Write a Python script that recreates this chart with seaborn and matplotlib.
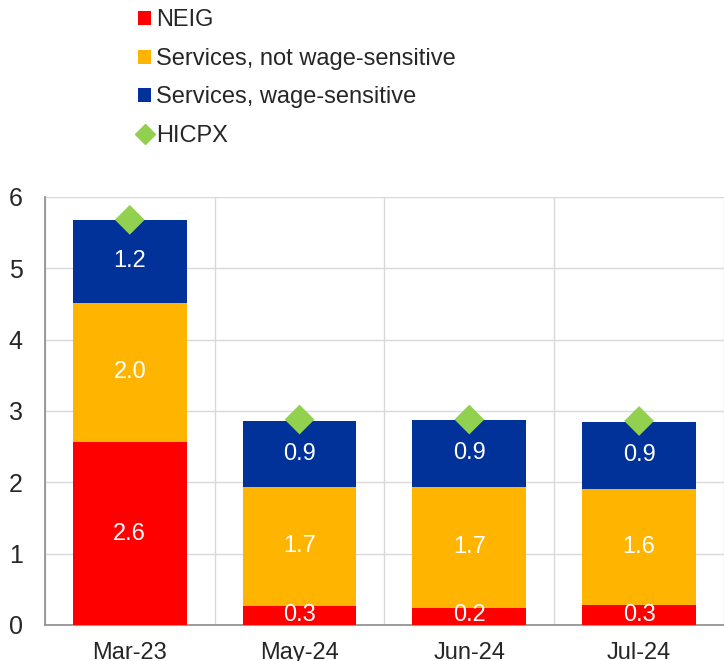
import matplotlib
matplotlib.use("Agg")
import matplotlib.pyplot as plt
import seaborn as sns
import numpy as np
import pandas as pd
from matplotlib.patches import Patch
from matplotlib.lines import Line2D

months = ["Mar-23", "May-24", "Jun-24", "Jul-24"]
neig = [2.56, 0.27, 0.24, 0.28]
serv_not_wage = [1.96, 1.67, 1.70, 1.63]
serv_wage = [1.16, 0.92, 0.93, 0.94]
hicpx = [5.68, 2.88, 2.88, 2.86]
series_names = ["NEIG", "Services, not wage-sensitive", "Services, wage-sensitive", "HICPX"]

RED = "#FF0000"
ORANGE = "#FFB400"
BLUE = "#003299"
GREEN = "#92D050"
FS = 17

sns.set_style("white")
plt.rcParams["font.family"] = ["Liberation Sans", "DejaVu Sans"]

df = pd.DataFrame({
    "month": months,
    "neig": neig,
    "snw": serv_not_wage,
    "sw": serv_wage,
    "hicpx": hicpx,
})
df["lvl2"] = df["neig"] + df["snw"]
df["lvl3"] = df["lvl2"] + df["sw"]

fig = plt.figure(figsize=(7.24, 6.61), dpi=100)
ax = fig.add_axes([0.062, 0.0545, 0.938, 0.6475])

# stacked bars drawn as overlapping cumulative totals
for col, c in [("lvl3", BLUE), ("lvl2", ORANGE), ("neig", RED)]:
    sns.barplot(data=df, x="month", y=col, color=c, width=0.67, saturation=1,
                linewidth=0, ax=ax, zorder=3)
sns.scatterplot(data=df, x="month", y="hicpx", marker="D", color=GREEN, s=230,
                edgecolor="none", ax=ax, zorder=5)

# value labels
for i, row in df.iterrows():
    if row["neig"] > 0.5:
        ax.text(i, row["neig"] / 2, f"{row['neig']:.1f}", ha="center", va="center",
                color="white", fontsize=FS, zorder=6)
    else:
        ax.text(i, -0.02, f"{row['neig']:.1f}", ha="center", va="bottom",
                color="white", fontsize=FS, zorder=6)
    ax.text(i, row["neig"] + row["snw"] / 2, f"{row['snw']:.1f}",
            ha="center", va="center", color="white", fontsize=FS, zorder=6)
    ax.text(i, row["lvl2"] + row["sw"] / 2, f"{row['sw']:.1f}",
            ha="center", va="center", color="white", fontsize=FS, zorder=6)

ax.set_xlim(-0.5, 3.5)
ax.set_ylim(0, 6)
ax.set_yticks(range(0, 7))
ax.set_xlabel("")
ax.set_ylabel("")

ax.set_xticks(np.arange(-0.5, 4, 1), minor=True)
ax.grid(True, axis="y", color="#d9d9d9", linewidth=1, zorder=0)
ax.grid(True, axis="x", which="minor", color="#d9d9d9", linewidth=1, zorder=0)
ax.set_axisbelow(True)

for s in ["top", "right"]:
    ax.spines[s].set_visible(False)
for s in ["left", "bottom"]:
    ax.spines[s].set_color("#8c8c8c")
    ax.spines[s].set_linewidth(1.2)

ax.tick_params(axis="x", which="major", length=0, labelsize=FS, pad=12)
ax.tick_params(axis="x", which="minor", length=7, color="#8c8c8c", direction="out")
ax.tick_params(axis="y", length=5, color="#8c8c8c", direction="out", labelsize=18, pad=11)

handles = [
    Patch(facecolor=RED, edgecolor="none"),
    Patch(facecolor=ORANGE, edgecolor="none"),
    Patch(facecolor=BLUE, edgecolor="none"),
    Line2D([], [], marker="D", color=GREEN, linestyle="none", markersize=10),
]
fig.legend(handles, series_names, loc="upper left", bbox_to_anchor=(0.178, 1.0),
           frameon=False, fontsize=FS, handlelength=0.55, handleheight=0.55,
           handletextpad=0.2, labelspacing=0.7, borderaxespad=0)

fig.savefig("out.png", dpi=100)
